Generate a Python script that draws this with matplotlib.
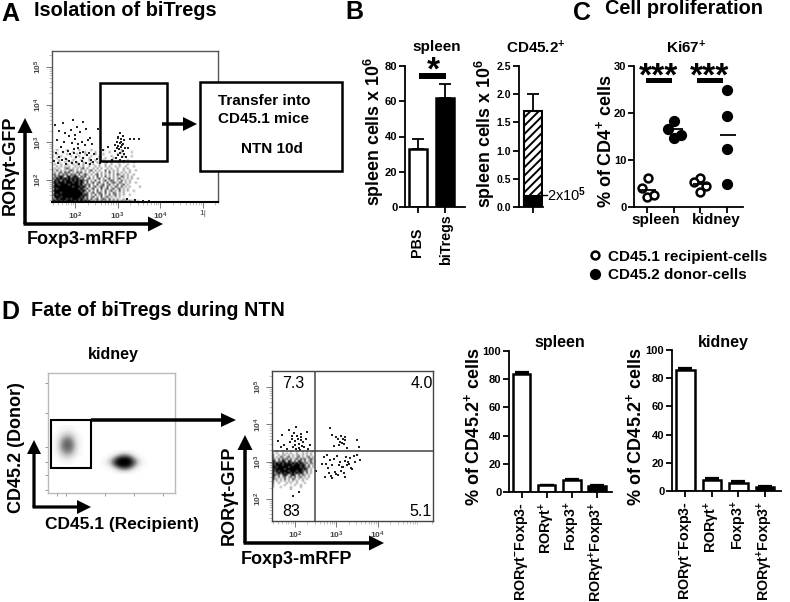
import matplotlib
matplotlib.use("Agg")
import matplotlib.pyplot as plt
from matplotlib.patches import Rectangle
import numpy as np

plt.rcParams['font.family'] = ['Liberation Sans', 'DejaVu Sans']
plt.rcParams['font.weight'] = 'bold'
plt.rcParams['mathtext.fontset'] = 'custom'
plt.rcParams['mathtext.rm'] = 'Liberation Sans'
plt.rcParams['mathtext.bf'] = 'Liberation Sans:bold'
plt.rcParams['mathtext.default'] = 'rm'
plt.rcParams['hatch.linewidth'] = 1.4

W, H = 790, 602

# panel B
b_groups = ["PBS", "biTregs"]
b_values = [33, 62]
b_errors = [5.5, 8]
b2_donor = 0.2
b2_total = 1.7
b2_error = 0.3

# panel C, x is group index plus the sideways spread of the dots
c_open_x = [0.02, -0.2, 0.0, 0.27, 2.0, 1.76, 2.22, 2.0]
c_open_y = [6.2, 4.0, 2.2, 2.5, 6.1, 5.4, 4.5, 3.1]
c_closed_x = [1.0, 0.79, 1.0, 1.29, 3.0, 3.0, 3.0, 3.0]
c_closed_y = [18.2, 16.7, 14.7, 15.4, 24.9, 19.4, 12.3, 5.0]
c_mean_x = [0, 1, 2, 3]
c_mean_y = [3.7, 16.5, 4.8, 15.4]
c_ticks = ["spleen", "kidney"]

# panel D bars
d_groups = ["RORγt$^{\\mathbf{-}}$Foxp3-", "RORγt$^{\\mathbf{+}}$", "Foxp3$^{\\mathbf{+}}$",
            "RORγt$^{\\mathbf{+}}$Foxp3$^{\\mathbf{+}}$"]
d_spleen = [84, 4.7, 8.7, 4]
d_spleen_err = [1.2, 0.4, 0.5, 0.8]
d_kidney = [86, 8, 6, 2.7]
d_kidney_err = [1.5, 1.0, 0.8, 1.0]

# panel D quadrant numbers
q_labels = ["7.3", "4.0", "83", "5.1"]

a_map = ["  .    .     .     .     .        .         ",
         ".    .    .     .    .      .     .    .    ",
         "  .    .    .   .    .   .      .           ",
         ".   .    .   .     .   .     .     .   .    ",
         "  .   .    .   .  .    .  .   .             ",
         ".  .   .  .   .   .  .   .   .       .      ",
         "   .  .  .  .  .   .  .   .  .  .  .    .   ",
         " .  .  .  . .  .  . .  .  .  .   .   .      ",
         "  . . . .  . . .  .  . .  . .  . .  .   .   ",
         " . .  .+. . . .+ .  . . .  . .  .  . .      ",
         ". + . . .+. . . . .+ . .  + . . .  .  .  . ",
         " . .+ +.+ . +.+ . . . . . . + . . . . .     ",
         ".+ + +.+ +.+ + .+. . .+ . . . . +. . .  .   ",
         " +.+#+ +#.+#+ +.+ . . + . + . . . +. . .    ",
         "+.#+#+#+#+#+#+.+ .+ . .+ . .+ . .+ . . .  .",
         " #+#.#+##+#+#+#+.+ . + . .+ .+. . + . .    ",
         "+#+###+###+##+#+ + .+ .+ . + .+. +. . .  .  ",
         " ##+####+####+#.+.+ . + .+ .+ . + .+ .      ",
         "+#########+###+#+ + .+ .+. + . +. + . .    .",
         " #+##########+#+.+ .+ . + .+ .+ .+ . .      ",
         "+#############+#+ + . + . + .+ . + . .  .   ",
         " ###+##########+.+ .+ .+. + . +. . .        ",
         "+#+############+#+ . + .+ . + .+ . .  .     ",
         " ###+#########+#.+ .+ . + .+ . . .          ",
         "+.#+###+#+###+#+.+ + .+ .+. + . .  .        ",
         "##+#+#+####+#+#+#+#.+.+.+.+.+.+.+.+.+.+.. . "]
a_x = [1.52, 1.62, 1.71, 1.85, 1.95, 2.05, 2.12, 2.18, 2.27, 2.36, 1.58, 1.66, 1.75, 1.83, 1.92, 2.01, 2.08, 2.16, 2.24,
       2.33, 2.41, 1.55, 1.63, 1.72, 1.8, 1.88, 1.97, 2.03, 2.11, 2.19, 2.28, 2.37, 2.44, 1.51, 1.6, 1.69, 1.78, 1.86,
       1.94, 2.02, 2.1, 2.17, 2.26, 2.35, 2.43, 2.52, 2.58, 1.98, 2.07, 1.9, 2.2, 2.0, 1.76, 2.3, 2.55,
       3.05, 3.12, 3.0, 3.08, 3.15, 2.98, 3.05, 3.13, 2.93, 3.0, 3.08, 3.18, 3.03, 3.12, 2.95, 3.05, 3.15, 3.0, 3.1,
       3.2, 2.96, 3.06, 3.14, 2.78, 2.65, 3.3, 3.38, 3.5, 3.25, 2.88, 2.75, 3.02, 3.09, 2.98, 3.1,
       3.23, 3.4, 3.6, 3.75,
       1.47, 1.47, 1.47, 1.47, 1.47, 1.47, 1.47, 1.47, 1.47, 1.47]
a_y = [3.45, 3.3, 3.52, 3.18, 3.6, 3.42, 3.27, 3.55, 3.35, 3.12, 3.05, 2.88, 3.02, 2.78, 2.98, 3.08, 2.85, 3.0, 2.92,
       2.72, 2.95, 2.72, 2.6, 2.74, 2.55, 2.68, 2.82, 2.6, 2.72, 2.58, 2.66, 2.52, 2.7, 2.5, 2.44, 2.52, 2.42, 2.5,
       2.44, 2.48, 2.42, 2.5, 2.44, 2.42, 2.48, 2.55, 2.44, 2.72, 2.95, 3.32, 2.75, 3.2, 3.25, 3.05, 3.35,
       3.25, 3.18, 3.15, 3.08, 3.05, 3.02, 2.98, 2.95, 2.92, 2.9, 2.88, 2.86, 2.82, 2.78, 2.76, 2.72, 2.7, 2.66, 2.6,
       2.62, 2.58, 2.52, 2.5, 2.88, 2.8, 3.1, 3.08, 3.08, 2.85, 2.52, 2.47, 3.12, 3.0, 2.84, 2.92,
       1.49, 1.46, 1.44, 1.45,
       3.55, 3.3, 3.1, 2.95, 2.8, 2.7, 2.55, 2.45, 3.4, 3.2]

# flow D right plot, lower left quadrant as a dot map too
q_map = ["  .  .   .  .  . .  . ",
         ". .  . . .  .  . . .  ",
         "+  . .. . . .. . . .  ",
         "+ . +. .+ . .+ . .+ . ",
         "+. + +.+ + .+ +.+ .+. ",
         "#+ +.#+ #+ + #+ + .+ .",
         "#+#+#+#+#+#+#+#+.+ +. ",
         "#+###+####+###+#+ + . ",
         "##+#####+#####+#+.+ . ",
         "#+####+########+#+ .  ",
         "#+#+####+###+##+.+ .  ",
         "#.+#+#+##+#+#+#+ + .  ",
         "#+.+ +#+ +#+ + +. .   ",
         "#. + .+ .+ + .+ . .   ",
         "#.. . + . +. . . .    ",
         "+ . . . . . .  .      ",
         "+  .   . .  .   .     ",
         ".     .    .  .       ",
         ".   .    .    .       ",
         "         .            "]
q_x = [1.7, 1.85, 1.92, 2.0, 2.06, 2.1, 2.15, 2.2, 2.3, 1.95, 2.03, 2.12, 2.08, 2.18, 1.75, 1.6, 1.98, 2.28, 2.36,
       1.8, 1.88, 2.04, 2.14, 2.22, 2.0, 1.93, 2.1, 1.66, 2.32, 2.16,
       2.9, 3.0, 3.05, 3.1, 3.15, 3.2, 3.13, 3.07, 2.95, 3.18, 3.5, 3.55, 2.85, 3.22, 3.25, 3.12,
       2.7, 2.75, 2.8, 2.85, 2.9, 2.96, 3.02, 3.08, 3.14, 3.2, 3.26, 3.32, 3.38, 3.44, 3.5, 3.57, 2.72, 2.78, 2.83,
       2.88, 2.94, 3.0, 3.06, 3.12, 3.18, 3.24, 3.3, 3.36, 3.42, 2.9, 3.05, 3.15, 3.22, 3.28, 2.65, 2.5,
       1.95, 2.1, 1.88, 2.0]
q_y = [3.72, 3.85, 3.6, 3.55, 3.7, 3.48, 3.66, 3.52, 3.8, 3.4, 3.35, 3.32, 3.62, 3.42, 3.45, 3.55, 3.78, 3.62, 3.45,
       3.34, 3.52, 3.92, 3.58, 3.38, 3.46, 3.68, 3.36, 3.4, 3.35, 3.74,
       3.72, 3.66, 3.6, 3.54, 3.6, 3.57, 3.5, 3.44, 3.42, 3.48, 3.58, 3.4, 3.9, 3.65, 3.36, 3.7,
       3.12, 2.95, 2.82, 3.05, 2.9, 2.72, 3.15, 2.98, 2.85, 3.02, 2.9, 3.1, 2.8, 3.0, 3.18, 3.05, 2.6, 3.18, 2.7,
       2.62, 3.08, 2.68, 2.92, 2.75, 2.7, 3.12, 2.95, 2.82, 3.14, 2.55, 2.65, 2.85, 2.6, 3.0, 2.95, 2.75,
       2.08, 2.2, 1.82, 1.7]

# flow D left plot, two clouds
donor_cloud = [[0, 0, .03, .06, .06, .03, 0, 0, 0],
               [0, .05, .14, .2, .2, .14, .05, 0, 0],
               [.03, .14, .3, .42, .45, .32, .16, .05, 0],
               [.05, .2, .45, .6, .65, .5, .22, .06, 0],
               [.05, .22, .5, .7, .72, .55, .26, .08, 0],
               [.05, .2, .42, .62, .65, .48, .2, .06, 0],
               [.03, .12, .28, .38, .42, .3, .14, .04, 0],
               [0, .05, .12, .17, .2, .14, .05, 0, 0],
               [0, 0, .03, .06, .07, .04, 0, 0, 0]]
recipient_cloud = [[0, 0, 0, .03, .08, .1, .08, .03, 0, 0, 0],
                   [0, .02, .08, .25, .55, .65, .5, .2, .06, .01, 0],
                   [.02, .1, .3, .75, 1, 1, .95, .55, .2, .05, .01],
                   [.03, .15, .45, .95, 1, 1, 1, .75, .3, .08, .01],
                   [.02, .1, .3, .7, 1, 1, .95, .5, .18, .04, 0],
                   [0, .02, .08, .25, .5, .6, .45, .18, .05, 0, 0],
                   [0, 0, 0, .03, .07, .1, .07, .02, 0, 0, 0]]

shade = {' ': 0.0, '.': 0.45, '+': 0.75, '#': 1.0}


def map_to_array(rows):
    n = max(len(r) for r in rows)
    return [[shade[c] for c in r.ljust(n)] for r in rows]


fig = plt.figure(figsize=(W / 100, H / 100), dpi=100, facecolor='white')


def px_axes(l, t, r, b):
    return fig.add_axes([l / W, 1 - b / H, (r - l) / W, (b - t) / H])


def prism_axes(ax):
    ax.spines['top'].set_visible(False)
    ax.spines['right'].set_visible(False)
    ax.spines['left'].set_linewidth(1.3)
    ax.spines['bottom'].set_linewidth(1.3)
    ax.patch.set_alpha(0)
    ax.tick_params(width=1.3, length=4, labelsize=8, pad=1.5)


def flow_axes(ax, xlim, ylim, frame, xlabs):
    ax.set_xlim(xlim)
    ax.set_ylim(ylim)
    ax.set_xticks([2, 3, 4, 5][:len(xlabs)])
    ax.set_yticks([2, 3, 4, 5])
    ax.set_xticklabels(xlabs, fontsize=6, color='#444444', fontweight='normal')
    ax.set_yticklabels(["$10^{2}$", "$10^{3}$", "$10^{4}$", "$10^{5}$"], fontsize=6, color='#444444',
                       rotation=90, va='center', fontweight='normal')
    mins = [n + np.log10(k) for n in [1, 2, 3, 4, 5] for k in range(2, 10)]
    ax.set_xticks([m for m in mins if xlim[0] < m < xlim[1]], minor=True)
    ax.set_yticks([m for m in mins if ylim[0] < m < ylim[1]], minor=True)
    ax.tick_params(which='major', length=4, width=.7, color='#777777', pad=2)
    ax.tick_params(which='minor', length=2, width=.5, color='#aaaaaa')
    for s in ax.spines.values():
        s.set_color(frame)
        s.set_linewidth(1.0)


# flow A
ax = px_axes(52, 51, 218, 202)
ax.imshow(map_to_array(a_map), extent=[1.46, 3.53, 1.42, 2.80], origin='upper', cmap='Greys', vmin=0, vmax=1,
          aspect='auto', interpolation='bilinear')
ax.scatter(a_x, a_y, s=0.55, c='#222222', marker='s', linewidths=0)
flow_axes(ax, (1.46, 5.36), (1.42, 5.42), '#555555', ["$10^{2}$", "$10^{3}$", "$10^{4}$", "1|"])
ax.spines['bottom'].set_color('k')
ax.spines['bottom'].set_linewidth(1.5)

# B spleen
ax = px_axes(405, 66, 465, 207)
prism_axes(ax)
ax.bar([0, 1], b_values, width=0.68, color=['white', 'black'], edgecolor='k', linewidth=1.8)
ax.errorbar([0, 1], b_values, yerr=[[0, 0], b_errors], fmt='none', ecolor='k', elinewidth=1.3, capsize=4, capthick=1.3)
ax.set_xlim(-0.49, 1.77)
ax.set_ylim(0, 80)
ax.set_yticks([0, 20, 40, 60, 80])
ax.set_xticks([0, 1])
ax.set_xticklabels([])

# B CD45.2
ax = px_axes(519, 66, 543, 207)
prism_axes(ax)
ax.bar([0], [b2_total], width=18, color='white', edgecolor='k', linewidth=1.5, hatch='////')
ax.bar([0], [b2_donor], width=18, color='black', edgecolor='k', linewidth=1.5)
ax.errorbar([0], [b2_total], yerr=[[0], [b2_error]], fmt='none', ecolor='k', elinewidth=1.3, capsize=4, capthick=1.3)
ax.set_xlim(-14, 10)
ax.set_ylim(0, 2.5)
ax.set_yticks([0, 0.5, 1.0, 1.5, 2.0, 2.5])
ax.set_yticklabels(["0.0", "0.5", "1.0", "1.5", "2.0", "2.5"])
ax.set_xticks([0])
ax.set_xticklabels([""])
ax.tick_params(labelsize=7.5)

# C
ax = px_axes(634, 66, 743, 207)
prism_axes(ax)
ax.scatter(c_open_x, c_open_y, s=32, facecolor='white', edgecolor='k', linewidths=1.8, zorder=3)
ax.scatter(c_closed_x, c_closed_y, s=50, color='k', zorder=3)
ax.hlines(c_mean_y, np.array(c_mean_x) - 0.28, np.array(c_mean_x) + 0.34, color='k', lw=1.3, zorder=4)
ax.set_xlim(-0.49, 3.6)
ax.set_ylim(0, 30)
ax.set_yticks([0, 10, 20, 30])
ax.set_xticks(c_mean_x)
ax.set_xticklabels([])

# D bars
for box, vals, errs in [((509, 351, 612, 492), d_spleen, d_spleen_err), ((672, 350, 781, 491), d_kidney, d_kidney_err)]:
    ax = px_axes(*box)
    prism_axes(ax)
    xs = np.arange(4)
    ax.errorbar(xs, vals, yerr=[[0] * 4, errs], fmt='none', ecolor='k', elinewidth=1.3, capsize=5, capthick=1.6)
    ax.bar(xs, vals, width=0.7, color=['white', 'white', 'white', 'black'], edgecolor='k', linewidth=1.8, zorder=2)
    ax.set_xlim(-0.5, 3.6)
    ax.set_ylim(0, 100)
    ax.set_yticks([0, 20, 40, 60, 80, 100])
    ax.set_xticks(xs)
    ax.tick_params(axis='x', pad=3)
    ax.set_xticklabels(d_groups, rotation=90, fontsize=10.3, fontweight='bold')

# flow D left
ax = px_axes(48, 373, 175, 493)
ax.imshow(donor_cloud, extent=[1.17, 2.34, 2.44, 3.69], origin='lower', cmap='Greys', vmin=0, vmax=1,
          aspect='auto', interpolation='bicubic')
ax.imshow(recipient_cloud, extent=[2.83, 4.55, 2.16, 2.91], origin='lower', cmap='Greys', vmin=0, vmax=1,
          aspect='auto', interpolation='bicubic')
ax.set_xlim(1.03, 5.41)
ax.set_ylim(1.56, 5.31)
ax.set_xticks([1.35, 1.65, 3, 4, 5])
ax.set_yticks([1.66, 2.12, 2.53, 3, 4.06, 5])
ax.set_xticklabels([])
ax.set_yticklabels([])
ax.tick_params(length=2, width=.6, color='#888888')
for s in ax.spines.values():
    s.set_color('#bbbbbb')
    s.set_linewidth(1.0)

# flow D right
ax = px_axes(272, 371, 433, 521)
ax.imshow(map_to_array(q_map), extent=[1.45, 2.51, 2.24, 3.31], origin='upper', cmap='Greys', vmin=0, vmax=1,
          aspect='auto', interpolation='bilinear')
ax.scatter(q_x, q_y, s=0.55, c='#222222', marker='s', linewidths=0)
ax.axvline(2.48, color='#444444', lw=1.1)
ax.axhline(3.29, color='#444444', lw=1.1)
flow_axes(ax, (1.45, 5.33), (1.41, 5.43), '#444444', ["$10^{2}$", "$10^{3}$", "$10^{4}$"])

# everything laid over the panels, in picture pixels
ov = fig.add_axes([0, 0, 1, 1], zorder=10)
ov.set_xlim(0, W)
ov.set_ylim(H, 0)
ov.axis('off')


def txt(x, y, s, size=11, rot=0, ha='center', va='center', weight='bold'):
    ov.text(x, y, s, fontsize=size, rotation=rot, ha=ha, va=va, fontweight=weight, color='k')


def arrow(x0, y0, x1, y1, w=3.5, hw=15, hl=14):
    ov.arrow(x0, y0, x1 - x0, y1 - y0, width=w, head_width=hw, head_length=hl,
             length_includes_head=True, color='k', linewidth=0)


# panel letters and headings
txt(1, 14, "A", 18, ha='left')
txt(34, 10, "Isolation of biTregs", 14.3, ha='left')
txt(345, 12, "B", 18, ha='left')
txt(573, 13, "C", 18, ha='left')
txt(605, 9, "Cell proliferation", 14.3, ha='left')
txt(1, 312, "D", 18, ha='left')
txt(31, 310, "Fate of biTregs during NTN", 14.2, ha='left')

# A annotations
ov.add_patch(Rectangle((100, 83), 67, 78, fill=False, edgecolor='k', lw=1.8))
ov.add_patch(Rectangle((200, 82), 142, 89, facecolor='white', edgecolor='k', lw=1.8))
txt(218, 101, "Transfer into", 11, ha='left')
txt(218, 119, "CD45.1 mice", 11, ha='left')
txt(241, 149, "NTN 10d", 11, ha='left')
arrow(162, 124, 197, 124, w=3.5, hw=14, hl=14)
arrow(25, 224, 25, 118, w=3.5, hw=15, hl=15)
arrow(23.5, 224, 163, 224, w=3.5, hw=15, hl=15)
txt(10, 165, "RORγt-GFP", 13, rot=90)
txt(82, 240, "Foxp3-mRFP", 13)

# B annotations
txt(437, 47, "spleen", 11)
txt(374, 132, "spleen cells x 10$^{\\mathbf{6}}$", 12.8, rot=90)
ov.add_patch(Rectangle((419, 73), 27, 6, color='k', lw=0))
txt(433, 71, "*", 24)
txt(417, 228, b_groups[0], 10.3, rot=90, va='top')
txt(446, 214, b_groups[1], 10.3, rot=90, va='top')
txt(536, 48, "CD45.2$^{\\mathbf{+}}$", 11)
txt(485, 134, "spleen cells x 10$^{\\mathbf{6}}$", 12.8, rot=90)
txt(547, 195, "2x10$^{5}$", 10.5, ha='left', weight='normal')
ov.plot([542, 547], [195, 195], color='k', lw=1)

# C annotations
txt(686, 48, "Ki67$^{\\mathbf{+}}$", 11)
txt(605, 141, "% of CD4$^{\\mathbf{+}}$ cells", 13, rot=90)
ov.add_patch(Rectangle((646, 78), 26, 5, color='k', lw=0))
ov.add_patch(Rectangle((697, 78), 26, 5, color='k', lw=0))
txt(659, 77, "***", 24)
txt(710, 77, "***", 24)
txt(656, 220, c_ticks[0], 11)
txt(716, 220, c_ticks[1], 11)
ov.scatter([595], [255], s=32, facecolor='white', edgecolor='k', linewidths=1.8)
ov.scatter([595], [274], s=50, color='k')
txt(608, 257, "CD45.1 recipient-cells", 11, ha='left')
txt(608, 275, "CD45.2 donor-cells", 11, ha='left')

# D left flow annotations
txt(113, 354, "kidney", 11.5)
ov.add_patch(Rectangle((51, 420), 40, 48, fill=False, edgecolor='k', lw=1.5))
arrow(91, 420, 236, 420, w=3.5, hw=14, hl=15)
arrow(34, 507, 34, 440, w=3.2, hw=14, hl=14)
arrow(32.5, 507, 91, 507, w=3.2, hw=14, hl=14)
txt(17, 448, "CD45.2 (Donor)", 13, rot=90)
txt(122, 525, "CD45.1 (Recipient)", 12.5)

# D right flow annotations
txt(293, 383, q_labels[0], 11.5, weight='normal')
txt(422, 383, q_labels[1], 11.5, weight='normal')
txt(291, 512, q_labels[2], 11.5, weight='normal')
txt(421, 512, q_labels[3], 11.5, weight='normal')
arrow(245, 543, 245, 435, w=3.5, hw=15, hl=15)
arrow(243.5, 543, 384, 543, w=3.5, hw=15, hl=15)
txt(229, 495, "RORγt-GFP", 13, rot=90)
txt(296, 559, "Foxp3-mRFP", 13)

# D bar annotations
txt(560, 343, "spleen", 11.5)
txt(723, 342, "kidney", 11.5)
txt(473, 427, "% of CD45.2$^{\\mathbf{+}}$ cells", 13, rot=90)
txt(635, 427, "% of CD45.2$^{\\mathbf{+}}$ cells", 13, rot=90)

fig.savefig("out.png", dpi=100)
